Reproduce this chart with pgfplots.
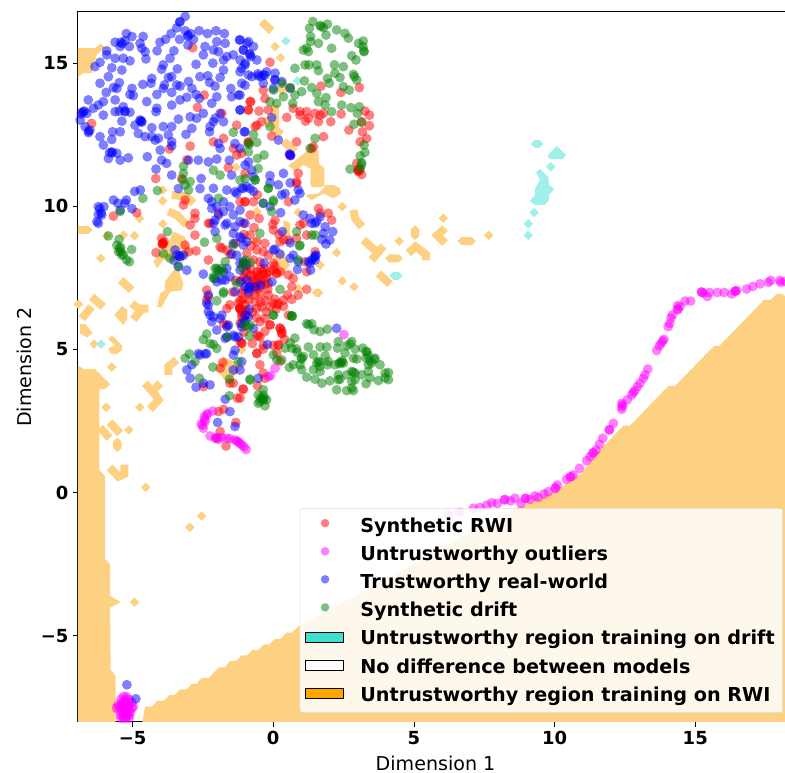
\documentclass[border=0pt]{standalone}
\usepackage{fontspec}
\setmainfont{DejaVu Sans}
\usepackage{pgfplots}
\pgfplotsset{compat=1.18}
\definecolor{oreg}{RGB}{254,209,130}
\definecolor{treg}{RGB}{160,239,232}
\definecolor{turq}{RGB}{64,224,208}
\definecolor{dgreen}{RGB}{0,128,0}
\definecolor{mag}{RGB}{255,0,255}
\definecolor{rred}{RGB}{255,0,0}
\definecolor{bblue}{RGB}{0,0,255}
\definecolor{oorange}{RGB}{255,165,0}
\newcommand{\dotimg}[1]{\addlegendimage{legend image code/.code={\fill[#1,opacity=.5,draw=none,sharp corners] (14.5pt,0) circle (3.2pt);\path[draw=none,fill=none] (0,-5pt) rectangle (29pt,5pt);}}}
\newcommand{\boximg}[1]{\addlegendimage{legend image code/.code={\draw[black,line width=.9pt,fill=#1,fill opacity=1,sharp corners] (0,-5.5pt) rectangle (29pt,4.5pt);}}}
\pgfplotsset{
  poly/.style={fill=oreg,draw=none,forget plot},
  tpoly/.style={fill=treg,draw=none,forget plot},
  band/.style={oreg,line width=6pt,no markers,forget plot},
  dia/.style={only marks,forget plot,mark=square*,mark size=2.5pt,mark options={rotate=45,fill=oreg,draw opacity=0}},
  tdia/.style={only marks,forget plot,mark=square*,mark size=2.5pt,mark options={rotate=45,fill=treg,draw opacity=0}},
  pts/.style={only marks,forget plot,mark=*,mark size=3.7pt,mark options={fill=#1,draw opacity=0,fill opacity=.5}},
}
\begin{document}
\begin{tikzpicture}
\useasboundingbox (-58.5pt,-38.25pt) rectangle (530.25pt,541.5pt);
\begin{axis}[
  at={(0,0)},anchor=south west,
  scale only axis,width=530.25pt,height=532.5pt,
  xmin=-6.94,xmax=18.19,ymin=-8.02,ymax=16.79,
  % small calibration of the values as they were read off the picture
  x filter/.expression={0.9954*x-0.046},
  y filter/.expression={1.0028*y-0.0105},
  xtick={-5,0,5,10,15},xticklabels={−5,0,5,10,15},
  ytick={-5,0,5,10,15},yticklabels={−5,0,5,10,15},
  xtick pos=bottom,ytick pos=left,
  tick align=outside,major tick length=3.6pt,
  tick style={black,line width=.6pt},
  axis line style={line width=.75pt},
  tick label style={font=\bfseries\fontsize{13.5}{16}\selectfont},
  xlabel={Dimension 1},ylabel={Dimension 2},
  label style={font=\fontsize{14.3}{16}\selectfont},
  xlabel style={xshift=3pt,yshift=-1.2pt},
  legend cell align=left,
  legend style={at={(1,0)},anchor=south east,xshift=-1.5pt,yshift=6.75pt,
    fill=white,fill opacity=.85,draw opacity=1,text opacity=1,draw=black!15,
    rounded corners=2pt,font=\bfseries\fontsize{14.4}{16}\selectfont,
    row sep=4.6pt,inner xsep=4pt,inner ysep=5.25pt,
    /tikz/every odd column/.append style={column sep=10pt}},
]
% regions where the two models disagree
\addplot[poly] coordinates {(-4.65,-8.1)(-4.53,-7.45)(-4.29,-7.45)(-4.09,-7.25)(-3.88,-7.25)(-3.64,-7.04)(-3.46,-7.04)(-3.28,-6.85)(-3.04,-6.85)(-2.86,-6.66)(-2.69,-6.66)(-2.51,-6.46)(-2.27,-6.46)(-1.89,-6.08)(-1.67,-6.08)(-1.5,-5.86)(-1.29,-5.86)(-1.08,-5.67)(-0.88,-5.67)(-0.69,-5.47)(-0.48,-5.47)(-0.28,-5.28)(-0.09,-5.28)(0.11,-5.09)(0.31,-5.09)(0.53,-4.87)(0.71,-4.87)(0.95,-4.66)(2.5,-3.85)(4,-3.05)(5.5,-2.25)(7.2,-1.33)(8.71,-0.54)(10.11,0.04)(11.06,0.68)(11.6,1.38)(12.55,2.34)(12.79,2.34)(14.15,3.72)(14.39,3.72)(15.79,5.12)(15.98,5.12)(17.57,6.72)(17.81,6.72)(18.02,6.93)(18.2,6.93)(18.4,6.8)(18.4,-8.1)} --cycle;
\addplot[poly] coordinates {(-6.95,4.46)(-6.73,4.31)(-6.32,4.31)(-5.78,3.78)(-5.96,3.61)(-6.16,3.61)(-6.16,0.79)(-5.96,0.58)(-5.96,-2.3)(-5.78,-2.5)(-5.78,-3.6)(-5.39,-3.81)(-5.78,-4.0)(-5.76,-6.17)(-5.58,-6.38)(-5.58,-8.1)(-6.95,-8.1)} --cycle;
\addplot[poly] coordinates {(-6.95,15.49)(-6.32,15.49)(-6.11,15.66)(-5.96,15.51)(-6.26,15.26)(-6.44,14.62)(-6.73,14.62)(-6.95,14.47)} --cycle;
\addplot[poly] coordinates {(0.59,11.4)(1.3,11.94)(1.66,11.94)(1.68,11.48)(1.87,11.3)(1.87,10.72)(1.38,10.72)(1.38,11.3)(1.12,11.42)(0.82,11.19)} --cycle;
\addplot[poly] coordinates {(1.18,10.38)(1.42,10.2)(1.84,10.43)(2.19,10.26)(2.46,10.43)(2.43,10.61)(2.19,10.73)(1.9,10.73)(1.84,10.61)(1.66,10.43)} --cycle;
\addplot[poly] coordinates {(1.36,10.9)(1.84,10.9)(1.84,10.67)(1.42,10.64)} --cycle;
\addplot[poly] coordinates {(0.05,8.28)(0.35,8.46)(0.65,7.93)(0.35,7.59)(0.05,7.64)} --cycle;
\addplot[poly] coordinates {(0.41,9.5)(0.65,9.4)(0.65,8.9)(0.41,8.9)} --cycle;
\addplot[poly] coordinates {(-4.1,8.23)(-3.76,8.57)(-3.52,9.1)(-3.1,8.92)(-2.92,8.4)(-3.16,8.05)(-3.88,8.11)(-4.1,7.82)(-4.23,8.05)} --cycle;
\addplot[poly] coordinates {(-4.1,6.48)(-3.99,6.95)(-3.82,7.06)(-3.82,7.35)(-3.52,7.76)(-3.34,7.76)(-3.16,7.3)(-3.22,7.06)(-3.64,7.0)(-3.94,6.46)} --cycle;
\addplot[poly] coordinates {(-5.36,6.5)(-5.16,6.37)(-5.16,6.07)(-5.3,5.84)(-5.63,6.19)} --cycle;
\addplot[poly] coordinates {(-6.85,5.88)(-6.67,5.88)(-6.4,5.57)(-6.61,5.41)(-6.85,5.55)} --cycle;
\addplot[poly] coordinates {(-5.72,5.49)(-5.36,5.14)(-5.36,4.97)(-5.54,4.83)(-5.76,4.85)(-5.84,5.03)(-5.6,5.14)(-5.84,5.34)} --cycle;
\addplot[poly] coordinates {(-1.73,4.75)(-1.0,4.4)(-1.6,3.82)(-1.97,4.28)} --cycle;
% long hexagons
\addplot[poly] coordinates {(4.04,8.17)(4.19,8.31)(4.52,8.31)(4.67,8.17)(4.52,8.03)(4.19,8.03)} --cycle;
\addplot[poly] coordinates {(6.62,8.77)(6.77,8.91)(7.13,8.91)(7.28,8.77)(7.13,8.63)(6.77,8.63)} --cycle;
\addplot[poly] coordinates {(1.42,6.97)(1.57,7.11)(1.69,7.11)(1.84,6.97)(1.69,6.83)(1.57,6.83)} --cycle;
\addplot[poly] coordinates {(-6.95,9.16)(-6.95,9.3)(-6.55,9.3)(-6.4,9.16)(-6.55,9.02)(-6.95,9.02)} --cycle;
\addplot[poly] coordinates {(5.11,9.32)(5.26,9.18)(5.26,8.94)(5.11,8.8)(4.96,8.94)(4.96,9.18)} --cycle;
\addplot[poly] coordinates {(-5.52,1.92)(-5.37,1.78)(-5.37,1.56)(-5.52,1.42)(-5.67,1.56)(-5.67,1.78)} --cycle;
\addplot[band] coordinates {(-0.37,16.42)(-0.01,16.09)};
\addplot[band] coordinates {(0.11,13.51)(0.11,12.64)(0.35,12.49)};
\addplot[band] coordinates {(-0.19,13.1)(-0.07,12.76)};
\addplot[band] coordinates {(0.25,13.95)(0.45,14.15)(0.8,14.1)};
\addplot[band] coordinates {(0.41,12.26)(0.82,11.88)};
\addplot[band] coordinates {(2.91,9.85)(2.97,9.56)(3.21,9.27)};
\addplot[band] coordinates {(3.26,8.81)(3.74,8.4)};
\addplot[band] coordinates {(3.98,8.6)(3.56,8.11)};
\addplot[band] coordinates {(4.87,8.35)(5.13,8.58)(5.5,8.3)(5.5,8.1)};
\addplot[band] coordinates {(6.18,9.22)(5.9,8.97)(6.18,8.7)};
\addplot[band] coordinates {(3.8,7.64)(4.22,7.27)};
\addplot[band] coordinates {(-3.7,9.8)(-3.4,9.68)(-3.04,9.33)};
\addplot[band] coordinates {(-3.58,10.38)(-3.04,10.32)(-2.8,10.09)};
\addplot[band] coordinates {(-5.4,7.41)(-5.01,7.06)};
\addplot[band] coordinates {(-6.44,6.83)(-6.02,6.48)};
\addplot[band] coordinates {(-6.44,6.48)(-6.79,6.07)};
\addplot[band] coordinates {(-5.0,6.6)(-4.77,6.42)(-4.41,6.42)};
\addplot[band] coordinates {(-4.6,6.45)(-4.95,6.04)};
\addplot[band] coordinates {(-3.4,4.63)(-3.7,4.4)(-3.7,4.11)};
\addplot[band] coordinates {(-4.53,3.82)(-4.17,3.41)(-4.05,3.24)(-4.35,2.91)};
\addplot[band] coordinates {(-3.99,3.82)(-4.23,3.58)};
\addplot[band] coordinates {(-5.8,2.46)(-5.42,2.07)};
\addplot[band] coordinates {(-6.14,2.28)(-5.8,1.9)};
\addplot[band] coordinates {(-5.8,0.89)(-5.48,0.56)(-5.27,0.65)(-5.27,0.98)};
\addplot[dia] coordinates {(0.11,15.55)(0.31,15.16)(2.51,9.97)(4.54,8.77)(6.12,9.57)(7.74,8.97)(2.51,7.38)(2.93,7.18)(2.31,8.37)(1.72,7.93)(0.94,9.77)(-0.54,9.8)(-0.6,8.77)(-1.08,4.97)(0.94,7.12)(-1.08,6.66)(-4.73,9.56)(-5.9,8.95)(-5.3,8.98)(-4.91,8.96)(-6.11,8.17)(-3.9,10.17)(-3.9,9.37)(-3.9,10.55)(-6.91,6.57)(-6.35,5.18)(-5.72,4.38)(-4.72,2.98)(-5.92,2.98)(-5.11,2.19)(-4.51,0.19)(-2.51,-0.81)(-2.93,-1.2)(-4.91,-3.81)(-1.29,11.34)};
\addplot[tpoly] coordinates {(9.83,11.74)(10.17,12.09)(10.49,11.78)(10.4,11.63)(9.93,11.63)} --cycle;
\addplot[tpoly] coordinates {(9.43,11.17)(9.57,11.29)(9.87,11.0)(9.89,10.73)(10.08,10.58)(9.89,10.38)(9.89,10.21)(9.75,10.03)(9.39,10.03)(9.21,10.17)(9.39,10.38)(9.39,10.59)(9.57,10.91)} --cycle;
\addplot[tpoly] coordinates {(9.24,12.16)(9.39,12.3)(9.54,12.3)(9.69,12.16)(9.54,12.02)(9.39,12.02)} --cycle;
\addplot[tpoly] coordinates {(4.19,7.56)(4.34,7.7)(4.52,7.7)(4.67,7.56)(4.52,7.42)(4.34,7.42)} --cycle;
\addplot[tdia] coordinates {(0.5,15.74)(0.91,14.35)(9.95,11.36)(9.36,9.77)(9.15,9.37)(9.15,8.97)(-6.1,5.18)};
% Synthetic RWI
\addplot[pts=rred] coordinates {(-2.83,15.51)(-2.42,13.86)(-2.66,13.43)(-1.79,13.22)(-0.84,13.34)(-0.78,13.63)(-6.44,12.87)(-3.66,11.98)(-2.92,12.08)(-2.09,12.23)(-1.73,12.35)(-1.26,12.81)(-1.38,12.0)(-1.26,11.77)(-0.84,12.23)(-1.56,11.33)(-0.96,11.13)(-4.15,10.95)(-3.22,10.95)(-3.04,11.6)
(-0.07,15.0)(-0.31,14.03)(-0.25,13.74)(-0.76,13.63)(-0.84,13.34)(-0.46,13.3)(-0.13,13.34)(1.75,14.17)(2.46,13.95)(3.12,14.12)(-0.37,12.93)(-0.54,12.81)(-0.6,12.76)(0.53,13.08)(0.76,13.4)(1.0,13.28)(1.0,13.16)(1.24,13.28)(1.3,13.05)(1.54,13.22)(1.72,13.16)(1.66,12.93)(1.84,13.22)(2.1,12.93)(2.47,13.2)(3.32,13.3)(3.48,13.16)(3.48,12.79)(3.2,12.93)(2.75,12.64)(3.23,12.58)(3.38,12.35)(3.15,12.23)(1.84,12.41)(1.48,12.06)(1.42,12.0)(0.88,12.23)(-0.01,12.43)(0.94,11.13)(3.03,11.48)(3.09,11.24)(3.11,11.22)(3.07,11.26)(3.2,11.09)(-0.84,12.21)(-1.08,11.83)(0.88,10.84)(3.08,11.2)(3.13,11.28)(1.2,12.95)
(-5.66,9.64)(-4.83,9.76)(-3.1,10.2)(-3.16,10.03)(-2.92,9.33)(-2.75,9.74)(-2.75,9.56)(-2.75,8.98)(-2.27,9.39)(-2.27,8.11)(-2.21,9.39)(-1.85,8.57)(-1.79,8.52)(-3.88,8.69)(-3.9,8.7)(-3.92,8.67)(-3.94,8.87)(-4.14,8.37)(-3.1,8.63)(-2.71,8.43)(-2.98,8.4)(-2.33,7.06)(-1.61,6.42)(-1.14,6.42)(-1.12,6.4)(-1.16,6.44)(-1.08,6.13)(-1.61,5.84)(-1.02,9.39)(-1.14,10.14)(-0.96,10.14)(-1.91,9.74)(-2.27,6.83)(-1.14,5.9)(-1.08,5.2)(-1.73,5.9)(-2.33,6.72)(-1.0,9.0)(-1.5,8.3)(-0.95,8.0)(-1.0,7.5)(-1.4,7.0)(-3.9,8.65)(-3.85,8.75)
(-0.96,10.14)(-0.66,10.14)(-0.52,10.38)(0.59,10.14)(0.88,10.78)(-0.78,9.68)(-0.46,9.56)(0.03,9.35)(0.11,9.5)(-0.64,9.24)(0.05,9.16)(0.29,8.75)(0.41,8.81)(1.0,9.33)(1.12,9.39)(0.88,8.87)(1.24,8.98)(1.66,9.91)(1.72,9.74)(2.01,9.74)(2.13,9.5)(1.54,8.4)(1.24,7.7)(1.18,8.05)(0.59,7.59)(0.76,7.47)(0.71,7.18)(1.24,7.09)(0.94,6.89)(0.71,6.74)(0.41,6.71)(0.23,6.6)(0.05,6.6)(-0.07,6.48)(-0.13,6.89)(0.41,6.5)(-0.37,6.48)(-0.54,6.42)(-0.96,6.37)(-1.08,6.25)(-1.02,6.07)(-0.25,6.07)(-0.43,5.96)(-0.07,5.84)(0.29,5.73)(0.35,5.55)(0.59,6.19)(-0.54,5.49)(-0.43,5.43)(-0.31,5.14)(0.05,5.14)(0.23,5.14)(-0.54,4.85)
(-0.54,8.46)(-0.31,8.4)(-0.13,8.28)(0.05,8.0)(0.05,7.76)(-0.25,7.82)(-0.54,7.7)(-0.78,7.59)(-0.96,7.7)(-0.54,7.41)(-0.31,7.41)(-0.13,7.3)(-0.66,7.18)(-0.43,6.95)(-1.02,7.06)(-0.84,6.71)(-0.6,6.89)(-1.08,7.41)(-1.14,6.71)(-1.14,6.42)(-1.02,8.0)(-0.9,8.34)(-1.08,6.95)(-0.19,7.64)(0.17,7.64)(-0.66,8.11)(-0.43,8.05)(-0.25,8.69)(-0.54,8.75)(-0.78,8.98)(-0.5,7.6)(-0.4,7.8)(-0.3,7.6)(-0.6,7.3)(-0.45,7.15)(-0.5,7.5)(-0.35,7.7)(-0.2,7.5)(-0.55,7.1)(-0.8,6.9)(-0.95,6.55)(0.1,6.75)(0.2,6.55)(-1.05,6.3)(-0.7,7.4)(-0.15,7.1)(0.15,7.65)(0.3,7.7)
(-0.9,7.7)(-0.8,7.3)(-0.75,7.8)(-0.65,7.55)(-0.4,7.35)(-0.25,7.25)(-0.1,7.7)(0.1,7.9)(-0.6,6.65)(-0.4,6.65)(-0.25,6.7)(-0.9,6.2)(-0.7,6.3)(-0.55,6.1)(-0.2,6.3)(-1.05,6.75)(0.15,6.4)(0.55,6.9)(0.6,8.8)(0.25,9.0)(-0.75,8.6)(-1.3,8.7)(-1.6,8.45)(-1.3,7.4)(-1.5,6.55)(-1.2,6.6)(-1.0,5.6)(-0.7,5.2)(0.45,5.35)
(0.29,5.74)(0.35,5.56)(-0.07,5.86)(-0.25,5.62)(-0.49,5.45)(-0.54,4.87)(-0.31,5.01)(0.23,5.16)(0.17,4.87)(-0.43,4.46)(-0.31,4.17)(-0.25,3.99)(-0.52,3.73)(-1.02,3.61)(-1.14,3.3)(0.29,4.58)(-1.14,5.27)(-1.08,5.22)(0.35,5.65)
(-1.76,4.54)(-1.85,4.34)(-1.38,3.82)(-1.04,3.61)(-1.23,3.3)(-2.45,3.7)(-1.91,2.83)(-1.73,2.91)(-1.29,2.45)(-1.85,2.13)(-1.97,1.9)(-1.64,1.63)(-1.5,3.82)};
% Untrustworthy outliers
\addplot[pts=mag] coordinates {(-2.11,2.85)(-2.3,2.77)(-2.42,2.65)(-2.39,2.48)(-2.53,2.4)(-2.45,2.25)(-2.21,1.98)(-2.03,1.9)(-1.91,1.86)(-1.61,1.9)(-1.32,1.84)(-1.2,1.78)(-1.08,1.67)(-0.92,1.51)(-2.33,2.71)(-1.97,1.93)(-1.79,1.93)(2.57,5.51)(0.11,4.34)(-0.05,4.08)(-0.13,4.05)(0.65,11.75)(0.63,11.8)(-2.4,2.55)(-2.48,2.35)(-1.5,1.88)(-1.25,1.8)(-1.15,1.72)(-1.0,1.6)
(6.3,-0.78)(6.7,-0.68)(7.19,-0.54)(7.43,-0.51)(7.67,-0.43)(7.85,-0.35)(8.05,-0.37)(8.32,-0.23)(8.52,-0.28)(8.68,-0.19)(8.89,-0.37)(9.04,-0.19)(9.21,-0.23)(9.39,-0.11)(9.51,-0.16)(9.71,-0.04)(9.87,0.04)(10.11,0.15)(10.19,0.27)(10.52,0.47)(10.67,0.56)(10.76,0.62)(10.98,0.85)(11.24,1.12)(11.36,1.26)(11.48,1.4)(11.57,1.49)(11.69,1.69)(11.81,1.9)(12.04,2.19)(12.19,2.42)(12.49,2.91)(12.52,3.06)(12.49,3.12)(12.69,3.24)(12.85,3.41)(12.96,3.56)(13.14,3.82)(13.26,3.99)(13.32,4.11)(13.42,4.31)(13.74,4.96)(13.83,5.12)(13.95,5.29)(14.0,5.35)(14.15,5.79)(14.25,6.09)(14.3,6.2)(14.48,6.38)(14.57,6.49)(14.48,6.52)(14.75,6.68)(14.95,6.68)(15.35,6.99)(15.4,6.96)(15.55,6.84)(15.62,6.98)(15.9,6.98)(16.15,6.98)(16.42,6.93)(16.54,7.02)(16.6,7.05)(16.95,7.1)(17.17,7.19)(17.43,7.28)(17.73,7.33)(17.81,7.4)(18.14,7.4)(18.17,7.33)(18.32,7.36)(12.05,2.2)(11.45,1.38)(10.65,0.55)(16.55,7.03)(15.33,7.0)(13.9,5.2)(14.5,6.4)(10.13,0.18)(9.06,-0.2)(8.3,-0.25)(13.05,3.7)(12.9,3.5)(12.5,3.0)(14.2,5.9)
(-5.5,-7.4)(-5.4,-7.2)(-5.3,-7.1)(-5.2,-7.1)(-5.1,-7.2)(-5.0,-7.3)(-4.95,-7.45)(-5.55,-7.5)(-5.4,-7.4)(-5.3,-7.3)(-5.2,-7.3)(-5.1,-7.4)(-5.0,-7.5)(-5.45,-7.6)(-5.3,-7.5)(-5.2,-7.5)(-5.1,-7.6)(-5.05,-7.65)(-5.4,-7.75)(-5.3,-7.7)(-5.2,-7.7)(-5.1,-7.75)(-5.4,-7.85)(-5.3,-7.85)(-5.2,-7.85)(-5.1,-7.85)(-5.35,-7.3)(-5.25,-7.4)(-5.15,-7.5)(-5.25,-7.6)(-5.35,-7.6)(-5.15,-7.35)(-5.45,-7.45)(-5.2,-7.2)(-5.3,-7.8)(-5.2,-7.8)};
% Trustworthy real-world
\addplot[pts=bblue] coordinates {(-3.1,16.6)(-3.3,16.4)(-3.4,16.2)(-3.6,16.0)(-3.1,16.1)(-2.9,16.0)(-2.6,16.1)(-2.3,16.0)(-2.0,16.1)(-1.7,16.0)(-3.0,15.9)(-2.8,15.8)(-3.3,15.8)(-3.8,15.8)(-4.0,15.7)(-4.1,15.4)(-3.0,15.6)(-5.2,16.0)(-5.0,15.9)(-4.6,15.9)(-5.4,15.7)(-5.6,15.7)(-5.25,15.75)(-5.35,15.65)(-3.28,16.42)(-3.0,15.95)
(-5.42,15.55)(-5.09,15.55)(-4.71,15.66)(-4.65,15.49)(-4.53,15.37)(-4.5,15.12)(-5.9,15.4)(-5.6,15.14)(-5.31,15.14)(-5.07,15.05)(-6.14,15.0)(-6.32,14.85)(-5.72,14.81)(-5.36,14.73)(-5.9,15.26)(-3.64,15.14)(-3.5,15.4)(-3.88,14.91)(-3.94,14.76)(-3.38,14.77)(-3.7,14.47)(-3.58,14.5)(-4.29,14.44)(-4.32,14.27)(-3.84,14.21)(-4.11,13.88)(-3.88,14.09)(-3.58,13.95)(-3.4,14.21)(-3.28,14.17)(-2.98,14.33)(-4.61,14.23)(-5.0,14.09)(-5.07,13.88)(-4.95,13.84)(-5.45,14.29)(-5.66,14.12)(-5.54,14.09)(-5.92,13.95)(-6.14,14.27)(-5.84,14.5)(-5.6,13.69)(-6.02,13.63)(-4.47,13.63)(-4.11,13.4)(-4.14,13.28)(-3.58,13.51)(-3.28,13.69)(-3.04,13.78)(-2.86,14.09)(-2.71,13.88)(-2.59,13.74)
(-2.71,14.93)(-2.57,14.5)(-2.29,14.53)(-2.23,14.3)(-2.03,14.17)(-1.73,14.73)(-1.85,14.47)(-2.11,14.97)(-1.73,15.08)(-2.39,15.55)(-2.45,15.26)(-2.09,15.43)(-1.91,15.37)(-1.67,15.66)(-1.97,15.72)(-1.16,15.78)(-0.9,15.66)(-1.02,15.43)(-1.38,15.26)(-1.61,15.2)(-1.14,15.08)(-0.96,14.91)(-1.14,14.67)(-0.84,14.56)(-1.08,14.27)(-1.47,14.09)(-1.2,13.86)(-1.44,13.8)(-1.97,13.8)(-1.14,13.34)
(-6.73,13.28)(-6.61,13.22)(-6.38,13.4)(-6.2,13.51)(-6.56,13.69)(-6.85,12.99)(-6.5,12.64)(-6.67,12.76)(-6.14,12.41)(-5.72,12.31)(-6.02,12.12)(-5.72,11.88)(-5.84,11.65)(-5.42,11.59)(-5.13,11.67)(-5.54,11.83)(-5.42,12.58)(-5.69,12.58)(-5.6,13.28)(-5.31,13.45)(-5.25,13.28)(-5.07,13.26)(-6.02,13.16)(-5.36,12.95)(-4.89,12.81)(-4.71,12.99)(-4.65,12.91)(-4.77,12.52)(-4.53,12.41)(-4.29,12.72)(-4.29,12.41)(-4.17,12.29)(-4.05,12.35)(-3.88,12.76)(-3.58,12.76)(-3.34,13.02)(-2.92,13.1)(-2.69,13.05)(-3.07,12.49)(-2.86,12.7)(-3.7,12.47)(-3.58,12.23)(-3.58,12.09)(-3.99,11.94)(-4.45,11.71)(-3.94,11.59)(-3.76,11.48)(-4.14,11.28)(-3.58,11.07)(-2.98,11.59)(-2.63,11.59)(-2.53,10.95)(-2.27,11.53)(-1.97,11.63)(-2.23,12.58)(-2.21,12.76)(-2.45,13.22)(-2.15,13.57)(-2.03,13.05)(-2.09,12.93)(-1.73,12.93)(-1.85,13.22)(-1.91,12.17)(-1.85,12.0)(-1.32,12.17)(-0.96,12.58)(-0.84,11.53)(-1.52,11.59)(-1.44,11.07)(-6.8,13.2)(-6.7,13.3)(-6.55,12.55)(-5.8,11.85)(-6.8,13.25)(-6.55,12.6)(-5.7,11.85)(-4.65,12.95)(-4.7,12.95)(-5.25,13.3)(-5.45,13.3)
(-1.14,15.78)(-0.84,15.72)(-0.66,15.55)(-1.02,15.43)(-0.78,15.26)(-0.54,15.08)(-0.96,14.97)(-1.08,14.79)(-0.72,14.5)(-0.49,14.53)(-0.31,14.56)(-0.19,14.67)(0.11,14.62)(-0.31,14.27)(0.11,14.38)(0.35,14.33)(0.65,14.09)(0.05,14.09)(-0.96,14.2)(-1.14,13.86)(0.23,12.29)(0.65,11.77)(0.63,11.8)(0.67,11.75)(-0.07,11.05)(0.41,11.13)(-1.14,13.34)(-0.99,12.58)(-0.01,13.07)(-0.66,11.01)(-1.14,12.0)(-0.96,11.42)(-0.72,11.24)(-0.8,15.3)(-0.75,15.2)(-0.5,14.6)(-0.4,14.5)(-0.25,14.55)(0.1,14.4)
(-6.2,9.97)(-6.08,9.68)(-6.2,9.39)(-6.25,9.45)(-6.0,9.97)(-5.66,10.2)(-5.5,10.09)(-5.2,10.2)(-5.0,9.9)(-4.9,10.5)(-4.7,10.55)(-5.25,10.09)(-5.42,9.85)(-3.46,8.46)(-3.28,8.23)(-3.4,8.28)(-3.16,8.28)(-3.04,7.76)(-3.34,7.88)(-3.5,8.1)(-2.45,7.62)(-6.2,9.7)(-6.15,9.9)(-6.1,9.75)(-3.3,8.25)
(-3.34,10.6)(-2.57,10.6)(-2.15,10.14)(-2.15,9.91)(-1.73,10.14)(-1.91,9.68)(-1.38,9.68)(-1.14,9.85)(-1.61,9.39)(-1.32,9.27)(-2.03,9.1)(-2.09,9.39)(-1.08,8.87)(-1.44,8.32)(-1.38,8.69)(-1.14,8.0)(-0.9,7.93)(-1.73,7.7)(-1.67,7.41)(-1.97,7.35)(-1.14,7.35)(-0.96,7.18)(-1.32,7.0)(-2.27,6.54)(-2.33,6.6)(-2.27,6.31)(-2.09,6.13)(-2.15,5.96)(-1.97,5.67)(-1.79,6.19)(-1.61,5.78)(-1.38,5.49)(-1.67,5.38)(-2.33,4.85)(-2.63,4.85)(-1.38,4.8)(-1.32,4.97)
(-2.09,10.61)(-2.27,10.26)(-1.97,9.97)(-1.61,10.55)(-1.32,10.49)(-1.02,10.61)(-1.73,9.8)(-1.5,9.97)(-1.26,10.43)(-2.03,9.5)(-1.67,9.33)(-1.14,9.45)(-0.96,9.39)(-1.38,9.04)(-1.14,8.92)(-0.9,8.75)(-1.26,8.28)(-1.02,8.05)(-1.61,7.82)(-1.91,7.76)(-2.03,7.47)(-1.5,7.53)(-1.79,7.41)(-1.14,7.76)(-0.9,7.41)(-2.27,6.89)(-2.21,6.19)(-1.85,6.07)(-1.55,5.84)(-1.2,5.43)(-0.96,6.19)(-1.32,5.43)(-1.61,5.43)
(-1.02,8.63)(-0.78,10.6)(-0.66,10.5)(-0.07,10.8)(0.23,10.73)(0.47,10.43)(0.82,10.2)(1.0,10.43)(0.65,10.8)(-0.31,10.09)(-0.07,9.97)(0.31,9.76)(1.12,9.68)(1.36,9.56)(1.6,9.45)(1.9,9.27)(2.17,9.1)(1.78,8.83)(1.93,8.67)(0.37,9.1)(0.11,8.49)(0.29,8.32)(0.65,8.71)(0.76,8.28)(0.65,8.17)(0.94,8.05)(1.3,8.05)(1.57,8.28)(1.54,8.11)(1.38,7.76)(0.91,7.78)(0.0,7.35)(-0.4,7.24)(-0.78,7.18)(-0.84,7.0)(-0.81,6.39)(-0.66,5.73)(-0.28,8.0)(-0.84,6.13)(-1.08,5.78)(2.31,5.73)(-0.16,5.17)(1.5,8.2)(1.55,8.25)
(-0.9,10.67)(-1.08,10.61)(0.35,10.38)(0.94,10.55)(1.42,9.39)(1.54,9.39)(1.72,9.62)(1.84,9.04)(2.07,8.81)(1.42,8.11)(1.36,8.0)(0.05,8.46)(-0.6,7.18)(-0.84,7.12)(-0.96,5.96)(-1.08,5.9)
(-3.04,4.28)(-2.92,3.99)(-2.71,3.68)(-2.57,4.8)(-2.21,3.76)(-2.45,3.82)(-1.67,3.26)(-1.5,2.83)(-1.94,2.45)(-1.32,2.31)(-1.38,4.28)(-1.14,4.28)(-1.08,4.57)(-2.86,4.46)(-2.39,4.84)(-0.49,3.99)(-5.18,-6.69)(-4.86,-7.18)};
% Synthetic drift
\addplot[pts=dgreen] coordinates {(1.46,16.42)(1.34,16.19)(1.72,16.28)(1.98,16.33)(1.84,16.21)(2.31,16.13)(2.61,16.01)(1.93,15.95)(1.38,15.9)(1.66,15.66)(1.38,15.72)(1.12,15.43)(1.3,15.37)(1.24,15.49)(2.13,15.49)(2.73,15.84)(3.09,15.66)(3.26,15.74)(3.29,15.37)(2.85,15.23)(3.0,15.08)(2.23,14.91)(2.55,14.85)(0.82,14.79)(1.18,14.91)(1.32,14.91)(1.6,14.91)(1.66,14.71)(2.25,14.62)(2.43,14.47)(2.91,14.58)(3.03,14.38)(1.98,14.44)(2.05,14.27)(1.16,14.35)(0.65,14.12)(0.35,14.27)(1.42,14.12)(1.06,13.98)(0.82,13.86)(2.55,14.15)(2.76,14.03)(1.6,13.92)(1.93,13.77)(1.66,13.63)(1.9,13.51)(0.41,13.8)(0.74,13.57)(0.05,14.03)(-0.07,13.63)(0.17,13.57)(2.49,13.51)(2.13,13.28)(2.82,13.42)(3.12,13.45)(3.05,13.22)(3.2,12.91)(2.93,12.84)(3.29,12.12)(3.32,11.86)(3.15,11.74)(3.2,11.44)(2.79,11.28)(1.54,12.35)(1.36,12.0)(-0.07,12.76)(-0.66,12.49)(-0.54,12.21)(-0.81,12.14)(-0.84,11.88)(-0.28,11.77)(-0.52,11.65)(-0.49,11.3)(-0.6,10.9)(3.2,11.5)(3.15,11.3)(1.75,16.25)(3.25,15.55)(3.28,15.4)(2.95,14.5)
(-1.38,12.56)(-3.16,11.38)(-3.16,11.13)(-3.19,10.9)(-2.92,10.84)(-2.09,11.24)(-1.85,11.07)(-1.14,10.9)(-0.84,12.17)(-0.96,10.95)
(-4.61,10.26)(-4.09,10.53)(-5.42,9.8)(-5.84,8.95)(-5.46,8.83)(-5.54,8.63)(-5.45,8.52)(-5.48,8.4)(-5.01,8.48)(-5.36,8.28)(-5.19,8.11)(-5.09,8.05)(-3.73,9.1)(-3.88,8.34)(-3.64,8.17)(-3.34,7.9)(-3.1,10.73)(-2.98,10.55)(-2.41,8.73)(-1.97,8.87)(-1.91,10.26)(-1.38,8.63)(-2.03,7.82)(-2.09,7.47)(-1.79,7.7)(-1.67,8.05)(-1.73,6.95)(-1.97,6.69)(-2.33,5.53)(-2.45,5.34)(-2.09,5.17)(-1.97,5.03)(-1.26,7.3)(-0.96,5.84)(-1.59,5.43)(-5.4,8.55)(-5.4,8.4)(-5.3,8.3)
(-1.02,8.0)(-0.96,8.11)(-0.13,10.61)(0.05,10.14)(1.54,8.98)(1.0,8.63)(0.05,6.19)(-0.78,5.84)(-1.97,7.82)(-1.91,7.7)(-1.79,7.82)(-2.09,7.53)(-1.73,7.0)(-2.21,5.2)
(-0.78,8.02)(-1.08,7.85)(-0.43,9.04)(-0.01,9.8)(-0.13,10.61)(-0.6,10.9)(-0.31,10.09)(0.05,10.2)(0.88,9.1)(1.42,8.98)(0.98,8.6)(0.94,8.11)(0.29,7.09)(0.05,6.19)(0.71,6.16)(0.73,6.15)(0.7,6.17)(-0.84,5.78)(-0.81,5.46)
(1.24,5.89)(1.42,5.89)(1.5,5.68)(1.72,5.62)(1.98,5.7)(1.3,5.86)(0.82,5.39)(0.65,5.22)(2.37,5.27)(2.34,5.04)(2.61,4.87)(2.85,5.27)(2.79,5.19)(2.97,5.01)(3.24,5.04)(3.36,4.93)(3.44,4.77)(2.67,5.12)(2.91,4.69)(3.03,4.66)(2.49,4.54)(2.25,4.46)(2.01,4.58)(1.9,4.77)(1.72,5.08)(1.96,5.08)(1.3,5.08)(0.88,5.01)(0.47,5.04)(0.71,5.04)(0.05,4.81)(1.12,4.75)(1.06,4.66)(1.48,4.81)(1.66,4.58)(1.6,4.52)(1.0,4.46)(0.76,4.46)(0.62,4.37)(0.35,4.63)(1.06,4.29)(1.48,4.29)(1.72,4.23)(1.98,4.46)(2.43,4.54)(2.55,4.52)(2.85,4.23)(2.97,4.17)(3.2,4.11)(3.68,4.69)(3.56,4.52)(3.44,4.46)(3.86,4.46)(3.44,4.23)(4.04,4.17)(4.16,4.19)(4.04,4.0)(4.16,3.94)(3.8,3.91)(3.5,4.0)(3.36,3.8)(2.97,3.94)(2.85,3.88)(2.67,4.11)(2.37,4.11)(2.43,3.96)(2.07,3.9)(1.78,3.82)(1.54,3.96)(1.24,4.03)(2.37,3.94)(2.31,3.59)(2.67,3.56)(2.91,3.56)(2.85,3.65)(-0.78,3.96)(-0.31,3.59)(-0.28,3.3)(-0.49,3.41)(-0.43,3.18)(-0.31,3.24)(-0.25,3.03)(-0.49,3.12)(0.17,4.63)(-0.19,3.24)(0.9,4.9)(1.7,4.4)(2.5,4.6)(3.35,4.7)(-0.3,3.4)(-0.4,3.3)(-0.35,3.25)(1.05,4.7)(1.7,4.55)(2.4,4.5)(3.4,4.9)(3.5,4.6)(3.65,4.65)(2.9,4.2)
(-3.1,4.69)(-2.95,4.84)(-2.75,4.57)(-2.59,3.99)(-2.11,4.38)(-1.52,3.96)(-1.52,3.38)(-1.2,4.57)(-0.78,3.93)};
\dotimg{rred}
\dotimg{mag}
\dotimg{bblue}
\dotimg{dgreen}
\boximg{turq}
\boximg{white}
\boximg{oorange}
\legend{Synthetic RWI,Untrustworthy outliers,Trustworthy real-world,Synthetic drift,Untrustworthy region training on drift,No difference between models,Untrustworthy region training on RWI}
\end{axis}
\end{tikzpicture}
\end{document}
